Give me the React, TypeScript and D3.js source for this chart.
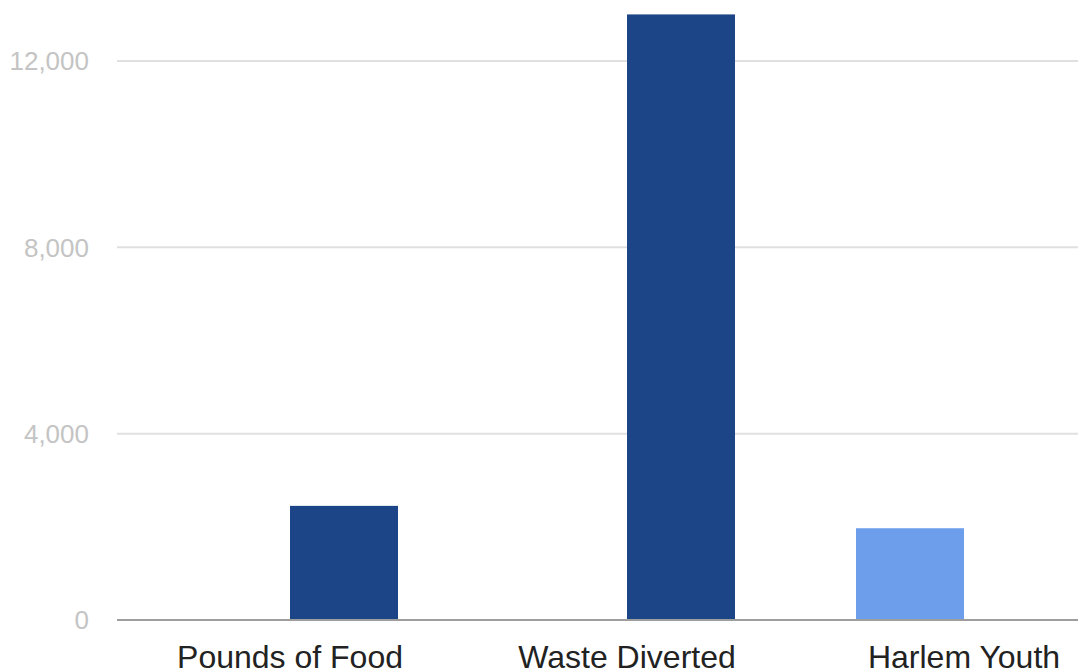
import React from "react";
import * as d3 from "d3";

const categories = ["Pounds of Food", "Waste Diverted", "Harlem Youth"];
const seriesNames = ["Youth", "Amount"];
const youthValues = [0, 0, 1970];
const amountValues = [2450, 13000, 0];
const yTicks = [0, 4000, 8000, 12000];
const seriesColors = ["#6d9eeb", "#1c4587"];

const W = 1078;
const H = 671;

export default function App() {
  const plotLeft = 117;
  const bandStart = 121.5;
  const bandStep = 337;
  const x = d3
    .scaleBand<string>()
    .domain(categories)
    .range([bandStart, bandStart + bandStep * categories.length])
    .padding(0);
  const barW = 108;
  const sub = d3.scaleBand<string>().domain(seriesNames).range([-barW, barW]).padding(0);
  const y = d3.scaleLinear().domain([0, 12000]).range([620, 61]);
  const fmt = d3.format(",");
  const seriesValues = [youthValues, amountValues];
  const font = "'Liberation Sans', Arial, sans-serif";

  return (
    <svg
      width={W}
      height={H}
      style={{ position: "absolute", left: 0, top: 0, background: "#fff" }}
      fontFamily={font}
    >
      {yTicks.map((t) => (
        <g key={t}>
          {t !== 0 && (
            <line x1={plotLeft} x2={W} y1={y(t)} y2={y(t)} stroke="#e0e0e0" strokeWidth={2} />
          )}
          <text
            x={89}
            y={y(t)}
            dy="0.36em"
            textAnchor="end"
            fontSize={26}
            fill="#c4c4c4"
          >
            {fmt(t)}
          </text>
        </g>
      ))}
      {seriesValues.map((vals, si) =>
        categories.map((c, ci) => {
          const v = vals[ci];
          if (!v) return null;
          const cx = (x(c) as number) + x.bandwidth() / 2;
          const bx = cx + (sub(seriesNames[si]) as number);
          return (
            <rect
              key={`${si}-${ci}`}
              x={bx}
              y={y(v)}
              width={sub.bandwidth()}
              height={y(0) - y(v)}
              fill={seriesColors[si]}
            />
          );
        })
      )}
      <line x1={plotLeft} x2={W} y1={y(0)} y2={y(0)} stroke="#9e9e9e" strokeWidth={2} />
      {categories.map((c) => (
        <text
          key={c}
          x={(x(c) as number) + x.bandwidth() / 2}
          y={668}
          textAnchor="middle"
          fontSize={32}
          fill="#222"
        >
          {c}
        </text>
      ))}
    </svg>
  );
}
